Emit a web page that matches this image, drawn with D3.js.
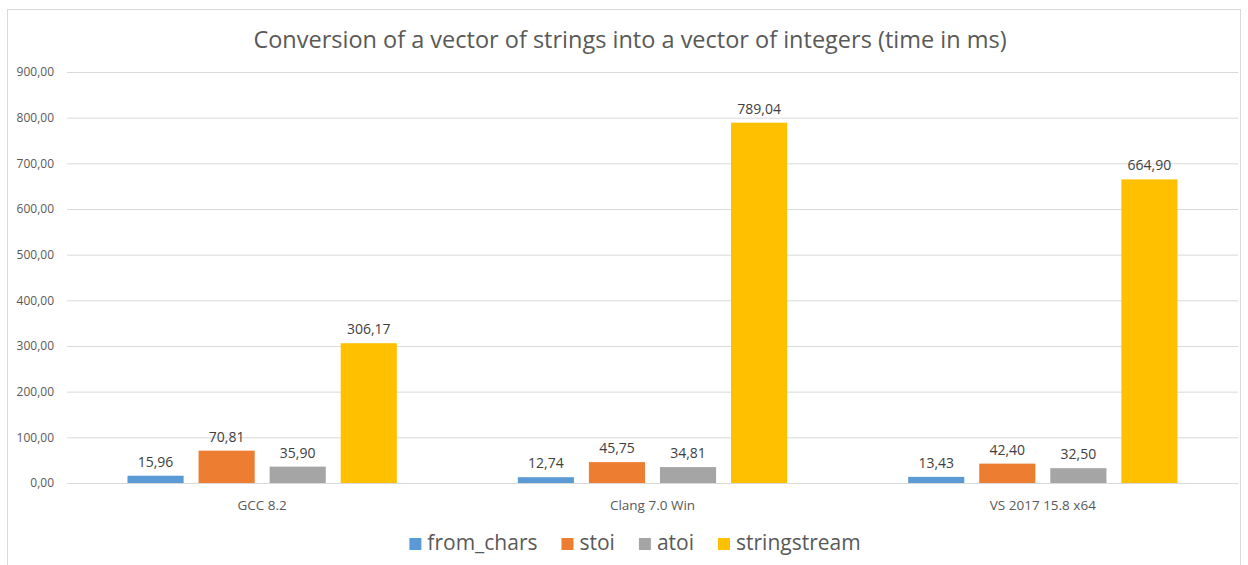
<!DOCTYPE html>
<meta charset="utf-8">
<style>
body { margin: 0; background: #fff; }
text { font-family: "Open Sans", sans-serif; }
.grid line { stroke: #d9d9d9; }
.grid path { display: none; }
.tick text { fill: #595959; font-size: 12px; }
.title { fill: #595959; font-size: 23.5px; }
.vlabel { fill: #404040; font-size: 14px; }
.catlabel { fill: #595959; font-size: 13.5px; }
.legend text { fill: #595959; font-size: 21px; }
</style>
<body>
<script src="https://d3js.org/d3.v7.min.js"></script>
<script>

var categories = ["GCC 8.2", "Clang 7.0 Win", "VS 2017 15.8 x64"];
var seriesNames = ["from_chars", "stoi", "atoi", "stringstream"];
var from_chars = [15.96, 12.74, 13.43];
var stoi = [70.81, 45.75, 42.40];
var atoi = [35.90, 34.81, 32.50];
var stringstream = [306.17, 789.04, 664.90];
var yTicks = [0, 100, 200, 300, 400, 500, 600, 700, 800, 900];
var colors = ["#5B9BD5", "#ED7D31", "#A5A5A5", "#FFC000"];

var values = [from_chars, stoi, atoi, stringstream];

var width = 1248, height = 565;
var margin = {top: 72, right: 10, bottom: 82, left: 67};
var plotW = 1238 - margin.left, plotH = 483 - margin.top;

var locale = d3.formatLocale({decimal: ",", thousands: ".", grouping: [3], currency: ["", ""]});
var fmt = locale.format(".2f");

var svg = d3.select("body").append("svg")
    .attr("width", width)
    .attr("height", height);

// chart frame
svg.append("rect")
    .attr("x", 7.5).attr("y", 9.5)
    .attr("width", 1233).attr("height", 570)
    .attr("fill", "none")
    .attr("stroke", "#d9d9d9");

svg.append("text")
    .attr("class", "title")
    .attr("x", 630)
    .attr("y", 48)
    .attr("text-anchor", "middle")
    .text("Conversion of a vector of strings into a vector of integers (time in ms)");

var g = svg.append("g")
    .attr("transform", "translate(" + margin.left + "," + margin.top + ")");

var x0 = d3.scaleBand().domain(categories).range([0, plotW]);
var x1 = d3.scaleBand().domain(seriesNames)
    .range([60.5, x0.bandwidth() - 60.5])
    .paddingInner(0.21).paddingOuter(0);
var y = d3.scaleLinear().domain([0, 900]).range([plotH, 0]);

g.append("g")
    .attr("class", "grid")
    .call(d3.axisLeft(y).tickValues(yTicks).tickSize(-plotW).tickPadding(13).tickFormat(fmt))
    .call(function(s) { s.selectAll(".tick text").attr("x", -13); });

var groups = g.selectAll(".cat")
    .data(categories)
    .enter().append("g")
    .attr("transform", function(d) { return "translate(" + x0(d) + ",0)"; });

groups.selectAll("rect")
    .data(function(c, i) { return seriesNames.map(function(s, k) { return {s: s, v: values[k][i], k: k}; }); })
    .enter().append("rect")
    .attr("x", function(d) { return x1(d.s); })
    .attr("y", function(d) { return y(d.v); })
    .attr("width", x1.bandwidth())
    .attr("height", function(d) { return y(0) - y(d.v); })
    .attr("fill", function(d) { return colors[d.k]; });

groups.selectAll(".vlabel")
    .data(function(c, i) { return seriesNames.map(function(s, k) { return {s: s, v: values[k][i]}; }); })
    .enter().append("text")
    .attr("class", "vlabel")
    .attr("x", function(d) { return x1(d.s) + x1.bandwidth() / 2; })
    .attr("y", function(d) { return y(d.v) - 9; })
    .attr("text-anchor", "middle")
    .text(function(d) { return fmt(d.v); });

groups.append("text")
    .attr("class", "catlabel")
    .attr("x", x0.bandwidth() / 2)
    .attr("y", plotH + 27)
    .attr("text-anchor", "middle")
    .text(function(d) { return d; });

// legend
var legend = svg.append("g").attr("class", "legend");
var items = legend.selectAll("g")
    .data(seriesNames)
    .enter().append("g");
items.append("rect")
    .attr("width", 12).attr("height", 12)
    .attr("y", 538)
    .attr("fill", function(d, i) { return colors[i]; });
items.append("text")
    .attr("x", 18)
    .attr("y", 550)
    .text(function(d) { return d; });

var offs = [], pos = 0;
items.each(function() {
    offs.push(pos);
    pos += 18 + this.querySelector("text").getComputedTextLength() + 24;
});
var total = pos - 24;
var start = 635 - total / 2;
items.attr("transform", function(d, i) { return "translate(" + (start + offs[i]) + ",0)"; });

</script>
</body>
